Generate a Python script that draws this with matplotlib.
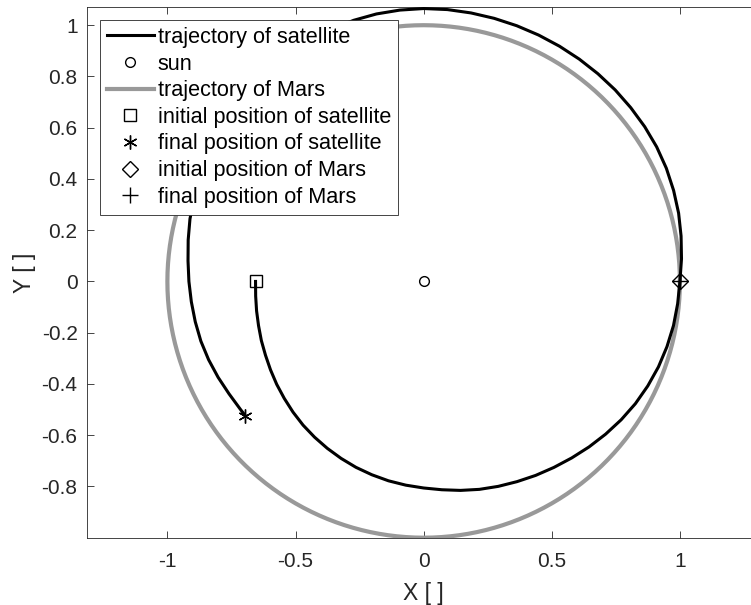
import numpy as np
import matplotlib

matplotlib.use("Agg")
import matplotlib.pyplot as plt

# Satellite path in polar form: angle (deg, counter-clockwise, accumulated
# past 360) and distance from the sun, every 5 degrees
sat_angle_deg = [180, 185, 190, 195, 200, 205, 210, 215, 220, 225,
                 230, 235, 240, 245, 250, 255, 260, 265, 270, 275,
                 280, 285, 290, 295, 300, 305, 310, 315, 320, 325,
                 330, 335, 340, 345, 350, 355, 360, 365, 370, 375,
                 380, 385, 390, 395, 400, 405, 410, 415, 420, 425,
                 430, 435, 440, 445, 450, 455, 460, 465, 470, 475,
                 480, 485, 490, 495, 500, 505, 510, 515, 520, 525,
                 530, 535, 540, 545, 550, 555, 560, 565, 570, 575, 577]
sat_radius = [0.656, 0.658, 0.662, 0.667, 0.674, 0.681, 0.690, 0.700, 0.710, 0.721,
              0.732, 0.742, 0.752, 0.762, 0.772, 0.781, 0.790, 0.798, 0.806, 0.816,
              0.828, 0.840, 0.851, 0.862, 0.874, 0.886, 0.899, 0.913, 0.927, 0.941,
              0.954, 0.965, 0.975, 0.983, 0.990, 0.995, 1.000, 1.010, 1.020, 1.030,
              1.038, 1.045, 1.050, 1.053, 1.055, 1.057, 1.058, 1.059, 1.060, 1.061,
              1.062, 1.063, 1.064, 1.065, 1.065, 1.063, 1.060, 1.055, 1.048, 1.040,
              1.030, 1.019, 1.007, 0.995, 0.984, 0.974, 0.965, 0.959, 0.953, 0.944,
              0.933, 0.923, 0.916, 0.910, 0.905, 0.900, 0.893, 0.885, 0.877, 0.872, 0.871]

# Mars orbit (circular) and its start / end positions
mars_radius = 1.0
mars_start = (1.0, 0.0)
mars_end = (1.0, 0.0)
sun = (0.0, 0.0)

x_ticks = [-1, -0.5, 0, 0.5, 1]
x_tick_labels = ["-1", "-0.5", "0", "0.5", "1"]
y_ticks = [-0.8, -0.6, -0.4, -0.2, 0, 0.2, 0.4, 0.6, 0.8, 1]
y_tick_labels = ["-0.8", "-0.6", "-0.4", "-0.2", "0", "0.2", "0.4", "0.6", "0.8", "1"]

plt.rcParams["font.family"] = ["Liberation Sans", "DejaVu Sans"]
plt.rcParams["axes.unicode_minus"] = False

text_color = "#262626"

theta = np.deg2rad(np.array(sat_angle_deg, dtype=float))
r = np.array(sat_radius)
sat_x = r * np.cos(theta)
sat_y = r * np.sin(theta)

phi = np.deg2rad(np.linspace(0, 360, 361))
mars_x = mars_radius * np.cos(phi)
mars_y = mars_radius * np.sin(phi)

fig = plt.figure(figsize=(7.51, 6.05), dpi=100)
# axes box runs a little past the right edge of the figure
ax = fig.add_axes([87.3 / 751, 67.3 / 605, 672.7 / 751, 530.7 / 605])

ax.plot(sat_x, sat_y, color="black", lw=2.2, solid_joinstyle="round",
        label="trajectory of satellite", zorder=3)
ax.plot(*sun, "o", ls="none", color="black", mfc="none", ms=7, mew=1.0, label="sun")
ax.plot(mars_x, mars_y, color="#999999", lw=3.0, label="trajectory of Mars", zorder=2)
ax.plot(sat_x[0], sat_y[0], "s", ls="none", color="black", mfc="none", ms=9, mew=1.0,
        label="initial position of satellite", zorder=4)
ax.plot(sat_x[-1], sat_y[-1], marker=(6, 2, 0), ls="none", color="black", ms=10, mew=1.0,
        label="final position of satellite", zorder=4)
ax.plot(*mars_start, "D", ls="none", color="black", mfc="none", ms=8.5, mew=1.0,
        label="initial position of Mars", zorder=4)
ax.plot(*mars_end, "+", ls="none", color="black", ms=11, mew=1.0,
        label="final position of Mars", zorder=4)

ax.set_xlim(-1.3125, 1.3125)
ax.set_ylim(-1.0, 1.071)
ax.set_xticks(x_ticks)
ax.set_xticklabels(x_tick_labels)
ax.set_yticks(y_ticks)
ax.set_yticklabels(y_tick_labels)

ax.tick_params(direction="in", length=5, width=0.6, colors=text_color,
               labelsize=15, top=True, right=True, pad=7)
ax.tick_params(axis="x", pad=10)
for spine in ax.spines.values():
    spine.set_color(text_color)
    spine.set_linewidth(0.6)

ax.set_xlabel("X [ ]", fontsize=16.5, color=text_color, labelpad=8.5)
ax.set_ylabel("Y [ ]", fontsize=16.5, color=text_color, labelpad=4)

leg = ax.legend(loc="upper left", bbox_to_anchor=(100 / 751, 1 - 20 / 605),
                bbox_transform=fig.transFigure, borderaxespad=0, fontsize=15.6,
                handlelength=2.15, handletextpad=0.2, labelspacing=0.26,
                borderpad=0.32, fancybox=False, framealpha=1)
leg.get_frame().set_edgecolor(text_color)
leg.get_frame().set_linewidth(0.6)

fig.savefig("out.png", dpi=100)
